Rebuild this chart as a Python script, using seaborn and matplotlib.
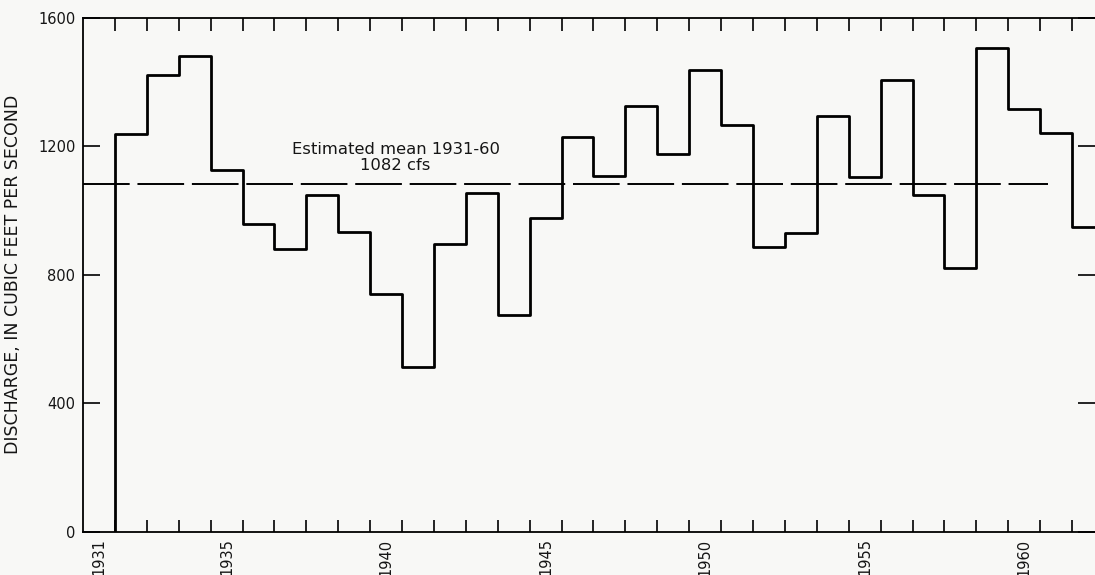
import pandas as pd
import seaborn as sns
import matplotlib.pyplot as plt

# Annual mean discharge (cfs), one value per year
years = list(range(1932, 1963))
discharge = [1238, 1422, 1481, 1126, 958, 880, 1048, 933, 740, 512,
             895, 1054, 674, 976, 1228, 1107, 1325, 1176, 1437, 1268,
             886, 929, 1295, 1105, 1408, 1050, 820, 1505, 1316, 1243,
             949]
mean_cfs = 1082
mean_label = "Estimated mean 1931-60\n1082 cfs"
label_years = [1931, 1935, 1940, 1945, 1950, 1955, 1960]
y_ticks = [0, 400, 800, 1200, 1600]

# step line: start on the baseline, each year holds its value until the next
edges = [years[0]] + years + [years[-1] + 1]
values = [0] + discharge + [discharge[-1]]
df = pd.DataFrame({"year": edges, "cfs": values})

sns.set_style("white")
plt.rcParams["font.family"] = ["DejaVu Sans"]
bg = "#f8f8f6"
ink = "#151515"

fig = plt.figure(figsize=(10.95, 5.75), dpi=100, facecolor=bg)
ax = fig.add_axes([83 / 1095, 43.5 / 575, 1012 / 1095, 513.5 / 575])
ax.set_facecolor(bg)

sns.lineplot(data=df, x="year", y="cfs", drawstyle="steps-post",
             estimator=None, sort=False, color="black", linewidth=2.0, ax=ax)
ax.hlines(mean_cfs, 1931, 1961.25, colors="black", linewidth=1.4,
          linestyles=(0, (24, 4)))
ax.text(1940.8, 1166, mean_label, ha="center", va="center",
        fontsize=11.8, color=ink, linespacing=1.1)

ax.set_xlim(1931, 1962.72)
ax.set_ylim(0, 1600)

# year boundaries as inward ticks, labels at the middle of each year
ax.set_xticks(range(1932, 1963))
ax.set_xticklabels([])
ax.set_xticks([y + 0.5 for y in label_years], minor=True)
ax.set_xticklabels([str(y) for y in label_years], minor=True, rotation=90,
                   fontsize=10.5, color=ink, va="top")
ax.tick_params(axis="x", which="major", direction="in", length=9,
               width=1.2, top=True, bottom=True, color="black")
ax.tick_params(axis="x", which="minor", length=0, pad=5)

ax.set_yticks(y_ticks)
ax.set_yticklabels([str(v) for v in y_ticks], fontsize=10.5, color=ink)
ax.tick_params(axis="y", direction="in", length=12, width=1.2,
               left=True, right=True, color="black", pad=5.5)

ax.set_xlabel("")
ax.set_ylabel("DISCHARGE, IN CUBIC FEET PER SECOND", fontsize=12.5,
              color=ink)
ax.yaxis.set_label_coords(-61 / 1012, 0.5)

for side in ["left", "bottom", "top"]:
    ax.spines[side].set_color("black")
    ax.spines[side].set_linewidth(1.3)
ax.spines["right"].set_visible(False)

fig.savefig("out.png", dpi=100, facecolor=bg)
